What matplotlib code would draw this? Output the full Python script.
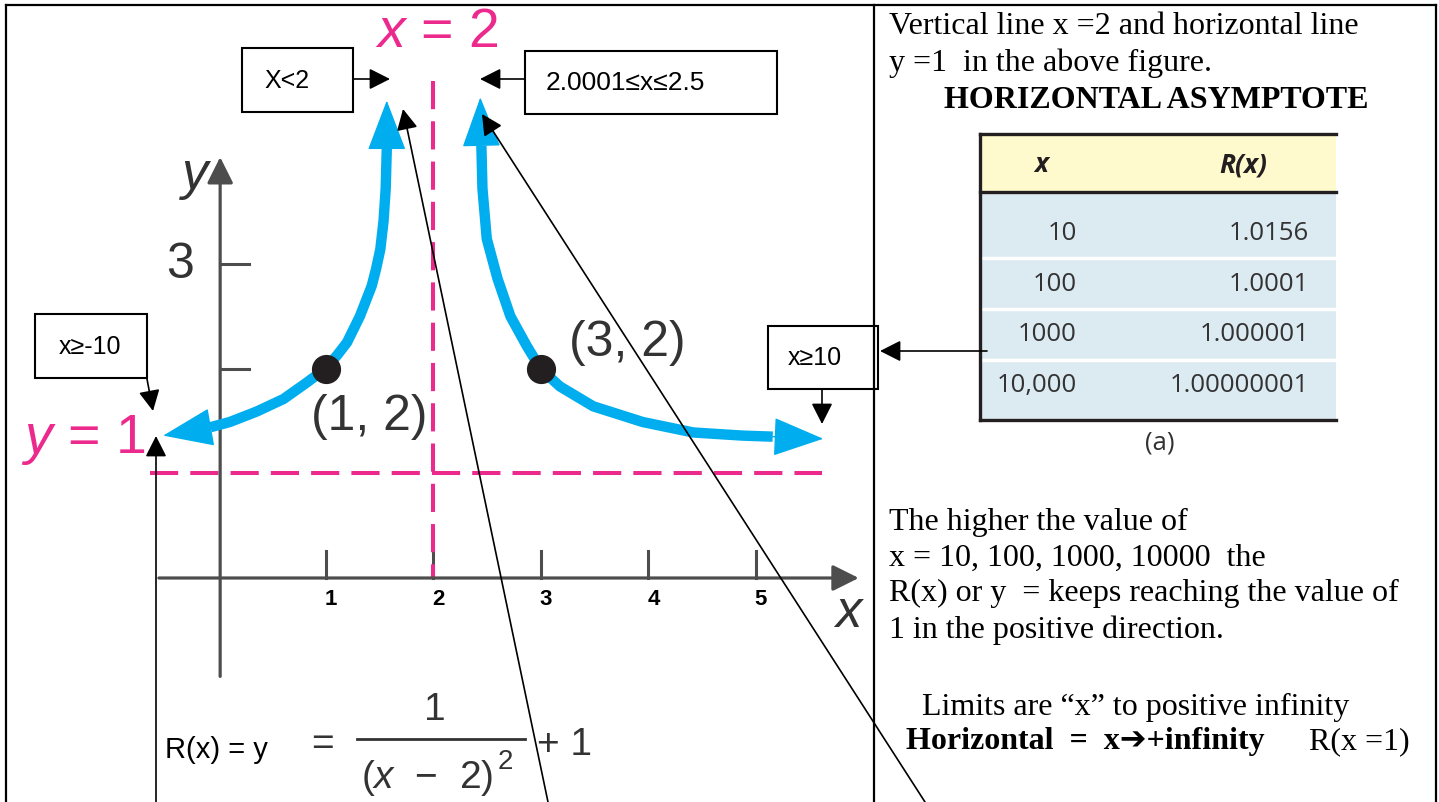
import matplotlib
matplotlib.use("Agg")
import matplotlib.pyplot as plt
from matplotlib.patches import Rectangle

plt.rcParams['mathtext.fontset'] = 'custom'
plt.rcParams['mathtext.rm'] = 'Liberation Sans'
plt.rcParams['mathtext.it'] = 'Liberation Sans:italic'

# curve R(x) = 1/(x-2)^2 + 1 as drawn in the textbook figure (first/last = arrow tips)
left_x = [1.57, 1.57, 1.56, 1.54, 1.51, 1.47, 1.43, 1.32, 1.20, 1.11, 1.00,
          0.83, 0.61, 0.36, 0.11, -0.07, -0.51]
left_y = [4.56, 4.10, 3.72, 3.41, 3.14, 2.95, 2.79, 2.50, 2.25, 2.13, 2.00,
          1.87, 1.71, 1.59, 1.49, 1.44, 1.36]
right_x = [2.44, 2.45, 2.46, 2.50, 2.60, 2.72, 2.87, 3.00, 3.18, 3.49, 3.95,
           4.42, 4.88, 5.16, 5.63]
right_y = [4.59, 4.13, 3.72, 3.24, 2.86, 2.50, 2.22, 2.00, 1.83, 1.64, 1.49,
           1.39, 1.36, 1.35, 1.33]
pts_x = [1, 3]
pts_y = [2, 2]
pts_lab = ['(1, 2)', '(3, 2)']
xticks = [1, 2, 3, 4, 5]
yticks = [2, 3]
va_x = 2
ha_y = 1
tab_x = ['10', '100', '1000', '10,000']
tab_r = ['1.0156', '1.0001', '1.000001', '1.00000001']

BLUE = '#00AEEF'
PINK = '#EC2A8E'
GRAY = '#4D4D4D'
TXT = '#333333'

W, H = 1439, 803
fig = plt.figure(figsize=(W / 100, H / 100), dpi=100)

# graph axes, scaled so data units fall where the textbook figure has them
X0, UX = 218, 107.5
Y0, UY = 579, 104.7
g = fig.add_axes([0, 0, 1, 1], label='graph')
g.set_xlim(-X0 / UX, (W - X0) / UX)
g.set_ylim((Y0 - H) / UY, Y0 / UY)
g.axis('off')

# page axes in pixels for the frame, boxes, table and text
p = fig.add_axes([0, 0, 1, 1], label='page')
p.set_xlim(0, W)
p.set_ylim(H, 0)
p.axis('off')
p.patch.set_alpha(0)

# asymptotes
g.plot([va_x, va_x], [4.75, 0], color=PINK, lw=2.9, dashes=(7, 3), zorder=2)
g.plot([-0.63, 5.62], [ha_y, ha_y], color=PINK, lw=2.9, dashes=(7, 3), zorder=2)

# coordinate axes
axarrow = dict(arrowstyle='-|>,head_length=0.8,head_width=0.4', mutation_scale=20,
               color=GRAY, lw=2.3, shrinkA=0, shrinkB=0)
g.annotate('', xy=(5.96, 0), xytext=(-0.55, 0), arrowprops=axarrow)
g.annotate('', xy=(0.02, 4.02), xytext=(0.02, -0.94), arrowprops=axarrow)
for t in xticks:
    g.plot([t, t], [0, 0.26], color=GRAY, lw=2.2, zorder=1)
    g.text(t + 0.05, -0.2, str(t), fontsize=16, fontweight='bold', color='black',
           family='Liberation Sans', ha='center', va='center')
for t in yticks:
    g.plot([0.02, 0.29], [t, t], color=GRAY, lw=2.2)
g.text(-0.35, 3, '3', fontsize=36, color=TXT, family='Liberation Sans', ha='center', va='center')
g.text(-0.21, 3.86, 'y', fontsize=38, color=TXT, family='Liberation Sans', style='italic',
       ha='center', va='center')
g.text(5.86, -0.32, 'x', fontsize=38, color=TXT, family='Liberation Sans', style='italic',
       ha='center', va='center')

# the two branches with arrow heads
for bx, by in [(left_x, left_y), (right_x, right_y)]:
    g.plot(bx[1:-1], by[1:-1], color=BLUE, lw=7.5, solid_capstyle='butt',
           solid_joinstyle='round', zorder=3)
    head = dict(arrowstyle='-|>,head_length=0.55,head_width=0.21', mutation_scale=60,
                color=BLUE, lw=1, shrinkA=0, shrinkB=0)
    g.annotate('', xy=(bx[0], by[0]), xytext=(bx[1], by[1]), arrowprops=head, zorder=3)
    g.annotate('', xy=(bx[-1], by[-1]), xytext=(bx[-2], by[-2]), arrowprops=head, zorder=3)

g.scatter(pts_x, pts_y, s=400, color='#231F20', zorder=4)
offs = [(44, -47), (87, 27)]
for px, py, lab, o in zip(pts_x, pts_y, pts_lab, offs):
    g.annotate(lab, (px, py), xytext=o, textcoords='offset pixels', fontsize=36,
               color=TXT, family='Liberation Sans', ha='center', va='center')

# pink labels
p.text(437, 33, r'$x$ = 2', fontsize=40, color=PINK, family='Liberation Sans',
       ha='center', va='center')
p.text(83, 440, r'$y$ = 1', fontsize=40, color=PINK, family='Liberation Sans',
       ha='center', va='center')

# equation
p.text(165, 750, 'R(x) = y', fontsize=21, color='black', family='Liberation Sans', va='center')
p.text(322, 745, '=', fontsize=28, color=TXT, family='Liberation Sans', ha='center', va='center')
p.text(435, 710, '1', fontsize=28, color=TXT, family='Liberation Sans', ha='center', va='center')
p.plot([357, 525], [740, 740], color=TXT, lw=2)
p.text(427, 778, r'($x$  −  2)', fontsize=28, color=TXT, family='Liberation Sans',
       ha='center', va='center')
p.text(505, 762, '2', fontsize=20, color=TXT, family='Liberation Sans', ha='center', va='center')
p.text(537, 745, '+ 1', fontsize=28, color=TXT, family='Liberation Sans', va='center')

# boxes
boxes = [((242, 49, 111, 64), 'X<2', (287, 81), 18),
         ((525, 52, 252, 63), '2.0001≤x≤2.5', (625, 83), 19),
         ((35, 315, 112, 64), 'x≥-10', (90, 347), 18),
         ((768, 327, 110, 63), 'x≥10', (815, 358), 18)]
for (bx, by, bw, bh), txt, (tx, ty), fs in boxes:
    p.add_patch(Rectangle((bx, by), bw, bh, facecolor='white', edgecolor='black', lw=1.5, zorder=5))
    p.text(tx, ty, txt, fontsize=fs, family=['Liberation Sans', 'DejaVu Sans'],
           ha='center', va='center', zorder=6)

# black pointer arrows
pointer = dict(arrowstyle='-|>,head_length=0.75,head_width=0.38', mutation_scale=17,
               color='black', lw=1.2, shrinkA=0, shrinkB=0)
for (x1, y1), (x2, y2) in [((353, 80), (390, 80)), ((525, 80), (480, 80)),
                           ((147, 380), (153, 412)), ((156, 803), (156, 437)),
                           ((548, 803), (403, 110)), ((925, 803), (482, 115)),
                           ((822, 390), (822, 425)), ((987, 352), (880, 352))]:
    p.annotate('', xy=(x2, y2), xytext=(x1, y1), arrowprops=pointer, zorder=7)

# page frame
fr = dict(color='black', lw=1.6, zorder=8)
p.plot([6, 6], [H, 6], **fr)
p.plot([6, 1436], [6, 6], **fr)
p.plot([1436, 1436], [6, H], **fr)
p.plot([874, 874], [6, H], **fr)

# right panel text
serif = ['Liberation Serif', 'DejaVu Sans']
p.text(889, 27, 'Vertical line x =2 and horizontal line', fontsize=23, family=serif, va='center')
p.text(889, 63, 'y =1  in the above figure.', fontsize=23, family=serif, va='center')
p.text(1156, 100, 'HORIZONTAL ASYMPTOTE', fontsize=23, family=serif, fontweight='bold',
       ha='center', va='center')

# table
p.add_patch(Rectangle((980, 135), 356, 58, facecolor='#FFFACD', edgecolor='none'))
p.add_patch(Rectangle((980, 193), 356, 228, facecolor='#DCEAF2', edgecolor='none'))
for y in [259, 310, 361]:
    p.plot([982, 1336], [y, y], color='white', lw=2.5)
for y in [135, 193, 421]:
    p.plot([980, 1336], [y, y], color='#231F20', lw=2.4)
p.plot([980, 980], [135, 421], color='#231F20', lw=2.4)
p.text(1041, 165, 'x', fontsize=19, family='Open Sans', fontweight='bold', style='italic',
       color='#231F20', ha='center', va='center')
p.text(1243, 165, 'R(x)', fontsize=19, family='Open Sans', fontweight='bold', style='italic',
       color='#231F20', ha='center', va='center')
for yc, a, b in zip([233, 285, 335, 386], tab_x, tab_r):
    p.text(1077, yc, a, fontsize=18.5, family='Open Sans', color=TXT, ha='right', va='center')
    p.text(1309, yc, b, fontsize=18.5, family='Open Sans', color=TXT, ha='right', va='center')
p.text(1160, 443, '(a)', fontsize=18.5, family='Open Sans', color=TXT, ha='center', va='center')

lines = ['The higher the value of', 'x = 10, 100, 1000, 10000  the',
         'R(x) or y  = keeps reaching the value of', '1 in the positive direction.']
for yc, s in zip([522, 558, 593, 630], lines):
    p.text(889, yc, s, fontsize=23, family=serif, va='center')
p.text(922, 707, 'Limits are \u201cx\u201d to positive infinity', fontsize=23, family=serif, va='center')
p.text(906, 742, 'Horizontal  =  x\u2794+infinity', fontsize=23, family=serif,
       fontweight='bold', va='center')
p.text(1309, 742, 'R(x =1)', fontsize=23, family=serif, va='center')

plt.savefig("out.png", dpi=100)
